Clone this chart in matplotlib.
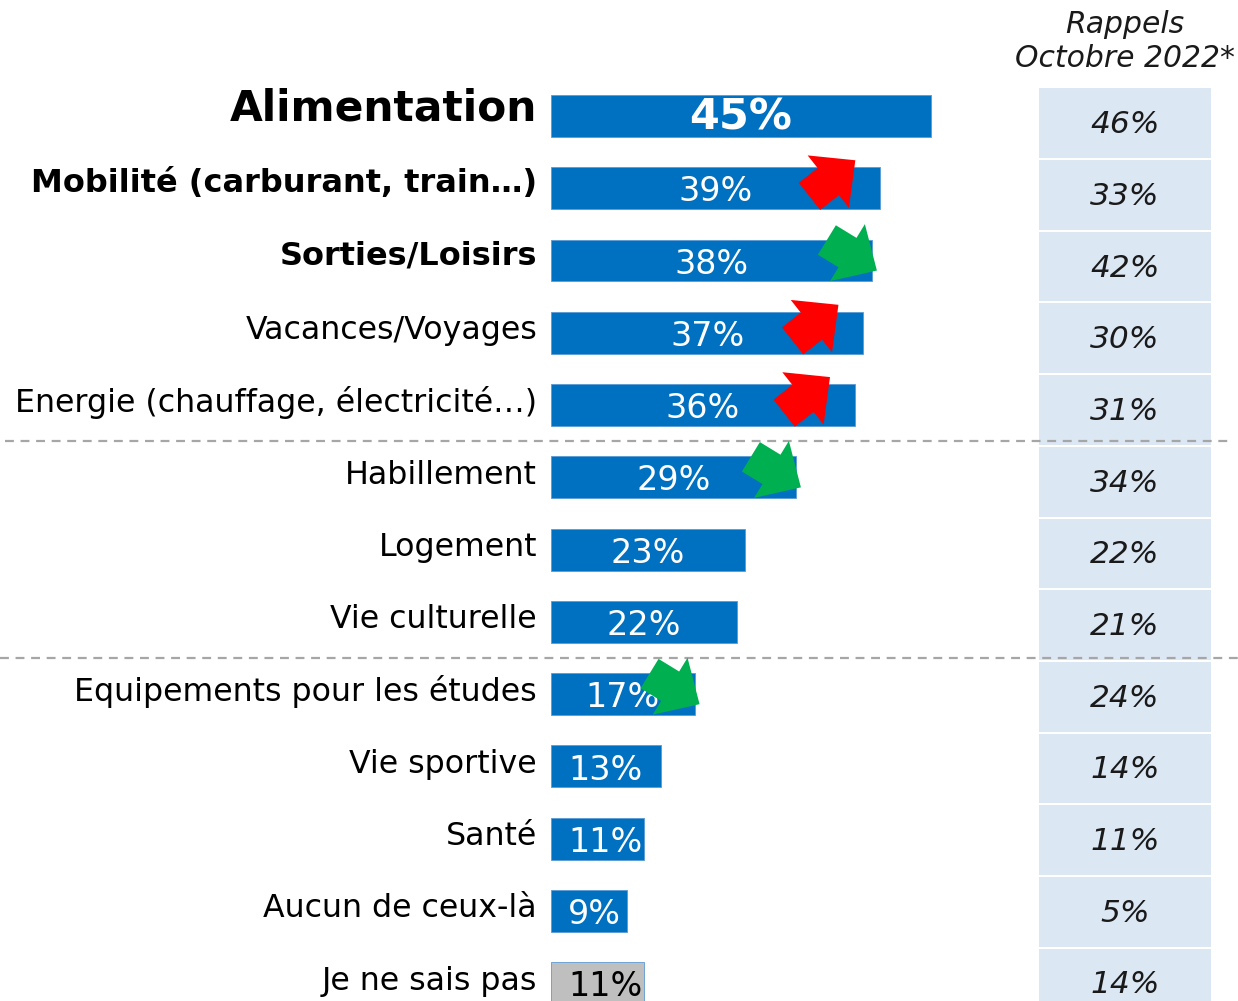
import matplotlib.pyplot as plt

# Data
categories = ['Alimentation', 'Mobilité (carburant, train…)', 'Sorties/Loisirs',
              'Vacances/Voyages', 'Energie (chauffage, électricité…)', 'Habillement',
              'Logement', 'Vie culturelle', 'Equipements pour les études',
              'Vie sportive', 'Santé', 'Aucun de ceux-là', 'Je ne sais pas']
values = [45, 39, 38, 37, 36, 29, 23, 22, 17, 13, 11, 9, 11]
rappels = [46, 33, 42, 30, 31, 34, 22, 21, 24, 14, 11, 5, 14]
trends = {1: 'up', 2: 'down', 3: 'up', 4: 'up', 5: 'down', 8: 'down'}
header = 'Rappels\nOctobre 2022*'

BLUE = '#0070C0'
GREY = '#BFBFBF'
CELL = '#DCE7F4'

fig = plt.figure(figsize=(12.38, 10.01), dpi=100)
ax = fig.add_axes([0, 0, 1, 1])
px = 380 / 45.0          # pixels per percent
row_px = 72.27           # pixels per row
ax.set_xlim(-551 / px, (1238 - 551) / px)
ax.set_ylim((1001 - 116) / row_px, -116 / row_px)
ax.axis('off')

rows = list(range(len(categories)))
colors = [BLUE] * (len(values) - 1) + [GREY]
ax.barh(rows, values, height=0.58, color=colors, edgecolor='#5B9BD5', linewidth=0.6)

# right column with previous wave (slightly tighter row pitch)
cell_left = (1039 - 551) / px
cell_w = (1211 - 1039) / px
cell_rows = [r * 0.992 + 0.1 for r in rows]
ax.barh(cell_rows, [cell_w] * len(rows), left=cell_left,
        height=0.965, color=CELL, linewidth=0)
for y, v in zip(cell_rows, rappels):
    ax.text(cell_left + cell_w / 2, y + 0.02, f'{v}%', ha='center', va='center',
            fontsize=22.5, style='italic', color='#1a1a1a')
ax.text(cell_left + cell_w / 2, -1.03, header, ha='center', va='center',
        fontsize=21.5, style='italic', linespacing=1.2, color='#1a1a1a')

# category labels
for r, lab in enumerate(categories):
    if r == 0:
        kw = dict(fontsize=30.5, fontweight='bold')
        dy = -0.1
    elif r in (1, 2):
        kw = dict(fontsize=23, fontweight='bold')
        dy = -0.06
    else:
        kw = dict(fontsize=22.8)
        dy = -0.03
    ax.text(-14 / px, r + dy, lab, ha='right', va='center', color='black', **kw)

# value labels inside bars
for r, v in enumerate(values):
    tc = 'black' if r == len(values) - 1 else 'white'
    if r == 0:
        ax.text(v / 2, r + 0.02, f'{v}%', ha='center', va='center', color=tc,
                fontsize=31, fontweight='bold')
    elif v <= 11:
        ax.text(17 / px, r + 0.05, f'{v}%', ha='left', va='center',
                color=tc, fontsize=24)
    else:
        ax.text(v / 2, r + 0.05, f'{v}%', ha='center', va='center',
                color=tc, fontsize=24)

# separators
ax.plot([5 / px - 551 / px, (1232 - 551) / px], [4.5, 4.5], color='#A6A6A6', lw=1.6, ls=(0, (4, 3)))
ax.axhline(7.5, color='#A6A6A6', lw=1.6, ls=(0, (4, 3)))

# evolution arrows
for r, d in trends.items():
    if d == 'up':
        tip = (values[r] - 25 / px, r - 28 / row_px)
        off = (-33, -26)
        col = '#FF0000'
    else:
        tip = (values[r] + 5 / px, r + 10 / row_px)
        off = (-36, 22)
        col = '#00B050'
    ax.annotate('', xy=tip, xytext=off, textcoords='offset points',
                arrowprops=dict(arrowstyle='simple,head_length=0.62,head_width=1.2,tail_width=0.62',
                                mutation_scale=40, color=col, shrinkA=0, shrinkB=0, lw=0))

fig.savefig('out.png', dpi=100)
